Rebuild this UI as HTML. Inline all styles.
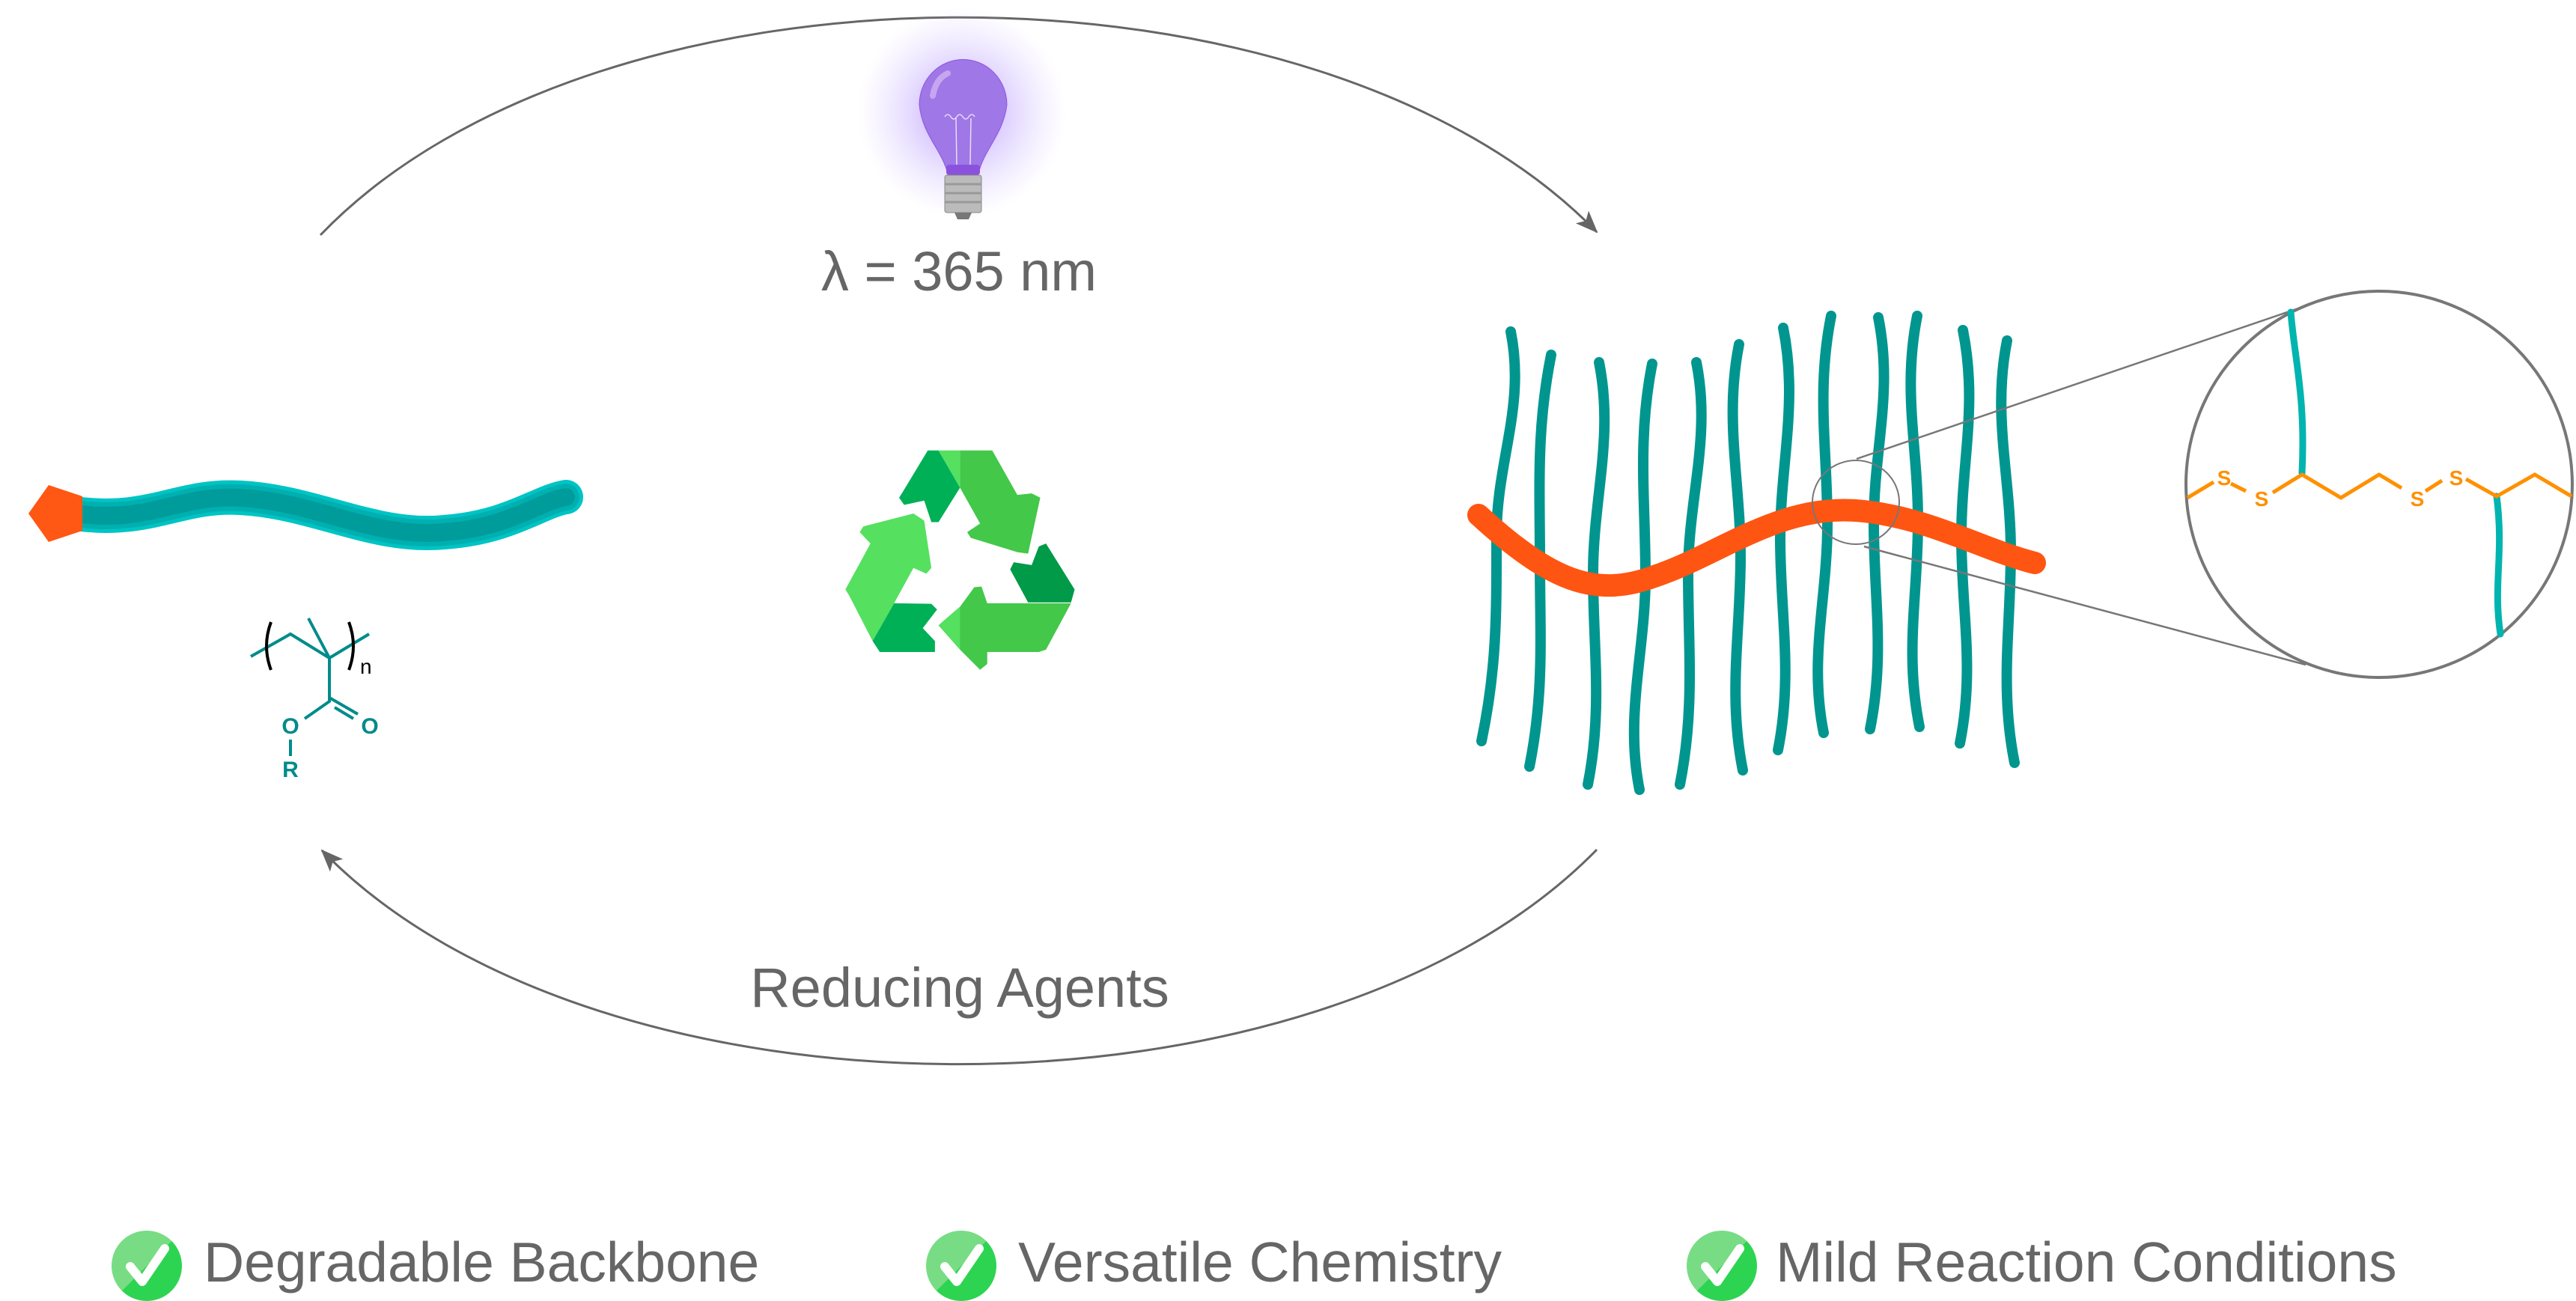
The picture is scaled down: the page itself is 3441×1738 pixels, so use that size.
<!DOCTYPE html>
<html><head><meta charset="utf-8"><style>
html,body{margin:0;padding:0;background:#fff;}
svg{display:block;}
text{font-family:"Liberation Sans",sans-serif;}
</style></head><body>
<svg width="3441" height="1738" viewBox="0 0 3441 1738" xmlns="http://www.w3.org/2000/svg">
<defs>
<marker id="ah" viewBox="0 0 30 24" refX="28" refY="12" markerWidth="30" markerHeight="24" markerUnits="userSpaceOnUse" orient="auto">
<path d="M0,0 L30,12 L0,24 L7,12 Z" fill="#666"/>
</marker>
<radialGradient id="glow" cx="0.5" cy="0.5" r="0.5">
<stop offset="0.3" stop-color="#b89bff" stop-opacity="0.6"/>
<stop offset="1" stop-color="#d8c8ff" stop-opacity="0"/>
</radialGradient>
<linearGradient id="chk" x1="0" y1="0" x2="1" y2="1">
<stop offset="0.5" stop-color="#78dc84"/><stop offset="0.5" stop-color="#2dd452"/>
</linearGradient>
</defs>

<path d="M428,314 C800,-73 1760,-73 2133,310" fill="none" stroke="#666" stroke-width="3" marker-end="url(#ah)"/>
<path d="M2133,1135 C1760,1517 800,1517 430,1136" fill="none" stroke="#666" stroke-width="3" marker-end="url(#ah)"/>

<ellipse cx="1285" cy="150" rx="140" ry="140" fill="url(#glow)"/>
<path d="M1266,232 C1258,200 1232,180 1228,140 A58,60 0 1 1 1345,140 C1340,180 1314,200 1307,232 Z" fill="#a077e6" stroke="#8a55e0" stroke-width="1"/>
<path d="M1246,128 Q1250,105 1266,98" stroke="#c6a6f0" stroke-width="8" fill="none" stroke-linecap="round"/>
<path d="M1262,156 q4,-6 8,0 t8,0 t8,0 t8,0 t8,0 M1277,158 L1278,220 M1297,158 L1296,220" stroke="#e8dcff" stroke-width="1.5" fill="none"/>
<rect x="1264" y="220" width="45" height="14" rx="4" fill="#8a52dc"/>
<rect x="1262" y="234" width="49" height="50" rx="3" fill="#bbb" stroke="#888" stroke-width="1"/>
<path d="M1262,246 h49 M1262,258 h49 M1262,270 h49" stroke="#999" stroke-width="3"/>
<path d="M1275,284 h23 l-4,9 h-15 z" fill="#777"/>
<text x="1281" y="388" font-size="74" fill="#666" text-anchor="middle">λ = 365 nm</text>
<text x="1282" y="1345" font-size="74" fill="#666" text-anchor="middle">Reducing Agents</text>

<g fill="none" stroke-linecap="round">
<path id="lp" d="M100,686 C200,700 240,660 321,665 C420,670 500,720 593,711 C680,705 720,670 756,664" stroke="#00c4c4" stroke-width="46"/>
<path d="M100,686 C200,700 240,660 321,665 C420,670 500,720 593,711 C680,705 720,670 756,664" stroke="#00b0b0" stroke-width="36"/>
<path d="M100,686 C200,700 240,660 321,665 C420,670 500,720 593,711 C680,705 720,670 756,664" stroke="#009c9c" stroke-width="24"/>
</g>
<polygon points="38,686 65,648 110,663 110,709 65,724" fill="#ff5714"/>

<g stroke="#008b8b" stroke-width="4" fill="none">
<path d="M335,877 L388,847 L440,879 L493,847"/>
<path d="M412,826 L440,879 L440,937 L407,960"/>
<path d="M440,932 L478,954 M447,945 L472,960"/>
<path d="M388,988 L388,1010"/>
</g>
<g stroke="#000" stroke-width="4" fill="none">
<path d="M362,831 Q350,863 362,895"/>
<path d="M466,831 Q478,863 466,895"/>
</g>
<text x="481" y="900" font-size="28" fill="#000">n</text>
<g font-size="30" font-weight="bold" fill="#008b8b" text-anchor="middle">
<text x="388" y="980">O</text><text x="494" y="980">O</text><text x="388" y="1038">R</text>
</g>

<g transform="translate(0,550) scale(0.957,0.383)">
<polygon fill="#00b057" points="1295,135 1310,135 1340,265 1310,385 1300,385 1290,310 1262,325 1255,300 1260,280"/>
<polygon fill="#55e060" points="1310,135 1340,135 1340,265"/>
<polygon fill="#43c84a" points="1340,135 1385,135 1420,290 1440,285 1452,300 1435,495 1420,490 1355,440 1350,420 1368,390 1340,265"/>
<polygon fill="#55e060" points="1275,355 1290,380 1300,545 1293,565 1275,545 1248,668 1218,800 1185,640 1180,620 1215,460 1200,420 1205,400"/>
<polygon fill="#00b057" points="1248,668 1300,670 1308,690 1288,755 1305,800 1305,838 1228,838 1218,800"/>
<polygon fill="#009a48" points="1460,460 1500,620 1495,665 1435,665 1410,550 1415,525 1440,535 1450,470"/>
<polygon fill="#43c84a" points="1370,610 1378,668 1495,668 1460,830 1450,838 1378,838 1378,880 1368,900 1340,830 1310,745 1340,680 1360,612"/>
<polygon fill="#55e060" points="1340,680 1340,830 1310,745"/>
</g>

<g fill="none" stroke="#00968f" stroke-width="14" stroke-linecap="round">
<path d="M2018,443 C2038,543 1999,616 1999,716 S2000,890 1979,990"/>
<path d="M2072,474 C2052,574 2057,649 2057,749 S2063,924 2043,1024"/>
<path d="M2136,484 C2156,584 2128,666 2128,766 S2141,948 2121,1048"/>
<path d="M2207,486 C2187,586 2198,670 2198,770 S2170,955 2190,1055"/>
<path d="M2266,484 C2286,584 2255,666 2255,766 S2264,948 2244,1048"/>
<path d="M2323,460 C2303,560 2325,644 2325,744 S2308,929 2328,1029"/>
<path d="M2382,438 C2402,538 2378,620 2378,720 S2395,902 2375,1002"/>
<path d="M2446,422 C2426,522 2441,600 2441,700 S2416,879 2436,979"/>
<path d="M2509,424 C2529,524 2503,599 2503,699 S2518,874 2498,974"/>
<path d="M2561,422 C2541,522 2562,596 2562,696 S2544,871 2564,971"/>
<path d="M2622,441 C2642,541 2620,617 2620,717 S2638,893 2618,993"/>
<path d="M2681,455 C2661,555 2686,637 2686,737 S2671,919 2691,1019"/>
</g>
<path d="M1975,688 C2070,775 2130,800 2210,770 C2300,740 2380,670 2490,683 C2580,693 2650,735 2718,752" fill="none" stroke="#ff5512" stroke-width="30" stroke-linecap="round"/>

<ellipse cx="2479" cy="671" rx="58" ry="56" fill="none" stroke="#777" stroke-width="2"/>
<path d="M2480,613 L3070,412 M2490,730 L3080,888" stroke="#777" stroke-width="2.5" fill="none"/>
<circle cx="3178" cy="647" r="258" fill="none" stroke="#777" stroke-width="4"/>
<path d="M3060,417 C3065,480 3080,530 3075,632 M3335,663 C3345,740 3330,780 3340,847" stroke="#00b4b0" stroke-width="9" fill="none" stroke-linecap="round"/>
<g stroke="#ff9000" stroke-width="5" fill="none">
<path d="M2922,665 L2957,644 M2980,646 L3000,656 M3036,658 L3075,634 L3127,665 L3178,634 L3208,652 M3240,656 L3262,642 M3294,640 L3335,663 L3386,634 L3435,663"/>
</g>
<g font-size="28" font-weight="bold" fill="#ff9000" text-anchor="middle">
<text x="2971" y="648">S</text><text x="3021" y="676">S</text><text x="3229" y="676">S</text><text x="3281" y="648">S</text>
</g>

<g>
<circle cx="196" cy="1691" r="47" fill="url(#chk)"/>
<path d="M174,1692 L190,1712 L220,1668" stroke="#fff" stroke-width="12" fill="none" stroke-linecap="round" stroke-linejoin="round"/>
<text x="272" y="1712" font-size="75" fill="#666">Degradable Backbone</text>
<circle cx="1284" cy="1691" r="47" fill="url(#chk)"/>
<path d="M1262,1692 L1278,1712 L1308,1668" stroke="#fff" stroke-width="12" fill="none" stroke-linecap="round" stroke-linejoin="round"/>
<text x="1360" y="1712" font-size="75" fill="#666">Versatile Chemistry</text>
<circle cx="2300" cy="1691" r="47" fill="url(#chk)"/>
<path d="M2278,1692 L2294,1712 L2324,1668" stroke="#fff" stroke-width="12" fill="none" stroke-linecap="round" stroke-linejoin="round"/>
<text x="2372" y="1712" font-size="75" fill="#666">Mild Reaction Conditions</text>
</g>
</svg>
</body></html>
